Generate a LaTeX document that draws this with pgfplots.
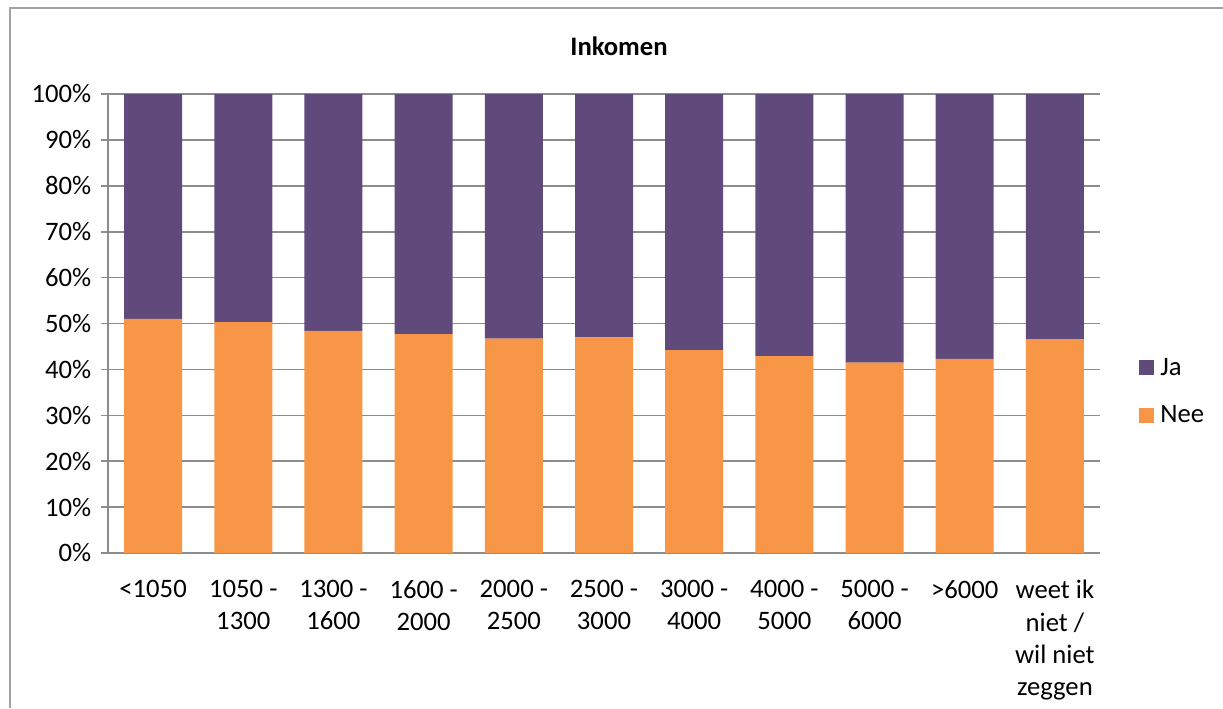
\documentclass[border=0pt]{standalone}
\usepackage{pgfplots}
\pgfplotsset{compat=1.18}
\usepackage{fontspec}
\setmainfont{Carlito}
\definecolor{jaC}{HTML}{604A7B}
\definecolor{neeC}{HTML}{F79646}
\definecolor{gridC}{HTML}{8C8C8C}
\begin{document}
\begin{tikzpicture}
\path[use as bounding box] (0,0) rectangle (917.25pt,531pt);
\draw[gridC!80, line width=1pt] (7.5pt,0) -- (7.5pt,525pt) -- (917.25pt,525pt);
\node[font=\fontsize{20}{24}\selectfont\bfseries] at (464.25pt,496.5pt) {Inkomen};
\begin{axis}[
  at={(81pt,116.25pt)}, anchor=south west,
  scale only axis, width=744pt, height=344.25pt,
  ybar stacked, bar width=43.5pt,
  xmin=-0.5, xmax=10.5, ymin=0, ymax=100,
  xtick={0,1,...,10},
  xticklabels={{<1050},{1050 -\\1300},{1300 -\\1600},{1600 -\\2000},{2000 -\\2500},{2500 -\\3000},{3000 -\\4000},{4000 -\\5000},{5000 -\\6000},{>6000},{weet ik\\niet /\\wil niet\\zeggen}},
  xticklabel style={align=center, font=\fontsize{20}{24.2}\selectfont, anchor=north, yshift=-12pt},
  ytick={0,10,...,100},
  yticklabels={0\%,10\%,20\%,30\%,40\%,50\%,60\%,70\%,80\%,90\%,100\%},
  yticklabel style={font=\fontsize{20}{24}\selectfont, xshift=-4pt},
  ymajorgrids, major grid style={gridC, line width=1.2pt},
  axis x line*=bottom, axis y line*=left,
  axis line style={gridC, line width=1.2pt, -},
  x tick style={draw=none},
  y tick style={gridC, line width=1.2pt},
  tick align=outside, major tick length=5pt,
  reverse legend,
  legend style={draw=none, fill=none, at={(1.035,0.352)}, anchor=west,
    font=\fontsize{20}{24}\selectfont, row sep=17.5pt},
  legend cell align=left,
]
\addplot[fill=neeC, draw=none, legend image code/.code={\fill[neeC] (0pt,-5.6pt) rectangle (11.25pt,5.6pt); \path (14pt,0pt);}] coordinates {
(0,51.0) (1,50.3) (2,48.4) (3,47.7) (4,46.7) (5,47.0) (6,44.2) (7,42.9) (8,41.5) (9,42.3) (10,46.6)};
\addlegendentry{Nee}
\addplot[fill=jaC, draw=none, legend image code/.code={\fill[jaC] (0pt,-5.6pt) rectangle (11.25pt,5.6pt); \path (14pt,0pt);}] coordinates {
(0,49.0) (1,49.7) (2,51.6) (3,52.3) (4,53.3) (5,53.0) (6,55.8) (7,57.1) (8,58.5) (9,57.7) (10,53.4)};
\addlegendentry{Ja}
\end{axis}
\end{tikzpicture}
\end{document}
